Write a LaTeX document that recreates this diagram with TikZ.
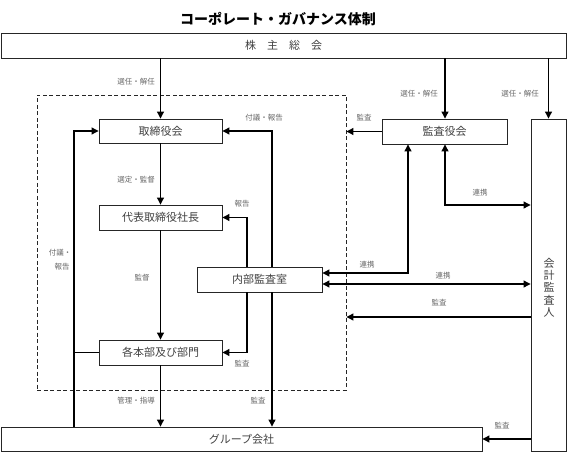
\documentclass[tikz,border=0pt]{standalone}
\usepackage{fontspec}
\newfontfamily\jp{Noto Sans CJK JP}
\usetikzlibrary{arrows.meta,calc}
\definecolor{lbl}{HTML}{666666}
\definecolor{txt}{HTML}{404040}
\tikzset{
  box/.style={draw=black!85, line width=0.9pt, inner sep=0pt, font=\jp\fontsize{11}{13}\selectfont, text=txt},
  dbox/.style={draw=black!85, line width=0.9pt, dash pattern=on 4pt off 2.5pt, inner sep=0pt},
  lab/.style={font=\jp\fontsize{7.5}{9}\selectfont, text=lbl, inner sep=0pt},
  arr/.style={line width=1.1pt, -{Triangle[length=7pt,width=7pt]}},
  arrb/.style={line width=1.1pt, {Triangle[length=7pt,width=7pt]}-{Triangle[length=7pt,width=7pt]}},
  ln/.style={line width=1.1pt}
}
\begin{document}
\begin{tikzpicture}[x=1pt,y=-1pt]
\useasboundingbox (0,0) rectangle (568,452);
% title
\node[font=\jp\bfseries\fontsize{14}{16}\selectfont, inner sep=0pt] (title) at (278,19) {コーポレート・ガバナンス体制};
% boxes
\node[box, minimum width=565pt, minimum height=25pt] (sh) at (283.5,45.5) {株　主　総　会};
\node[dbox, minimum width=309pt, minimum height=295pt] (db) at (191.5,242.5) {};
\node[box, minimum width=123pt, minimum height=24pt] (tb) at (160.5,131) {取締役会};
\node[box, minimum width=123pt, minimum height=25pt] (ceo) at (160.5,217.5) {代表取締役社長};
\node[box, minimum width=125pt, minimum height=25pt] (ia) at (259.5,279.5) {内部監査室};
\node[box, minimum width=123pt, minimum height=25pt] (dept) at (160.5,352.5) {各本部及び部門};
\node[box, minimum width=481pt, minimum height=24pt] (grp) at (241.5,439) {グループ会社};
\node[box, minimum width=125pt, minimum height=25pt] (kan) at (444.5,131.5) {監査役会};
\node[box, minimum width=35pt, minimum height=332pt, align=center, font=\jp\fontsize{11}{12.3}\selectfont] (acc) at (548.5,285) {};
\node[font=\jp\fontsize{11}{12.3}\selectfont, text=txt, align=center, inner sep=0pt] (acct) at (549,287.5) {会\\計\\監\\査\\人};
% helper coordinates
\coordinate (xl) at (74,0);
\coordinate (xa) at (272,0);
\coordinate (xb) at (247,0);
\coordinate (xc) at (408,0);
\coordinate (xd) at (445,0);
\coordinate (y1) at (0,273);
\coordinate (y2) at (0,205);
\coordinate (y3) at (0,284);
\coordinate (y4) at (0,317);
% connectors from shareholders
\draw[arr] (tb.north |- sh.south) -- (tb.north);
\draw[arr] (xd |- sh.south) -- (xd |- kan.north);
\draw[arr] (acc.north |- sh.south) -- (acc.north);
% main chain
\draw[arr] (tb.south) -- (ceo.north);
\draw[arr] (ceo.south) -- (dept.north);
\draw[arr] (dept.south) -- (dept.south |- grp.north);
% left loop
\draw[arr] (xl |- grp.north) |- (tb.west);
\draw[ln] (dept.west) -- (dept.west -| xl);
% internal audit
\draw[arr] (xa |- ia.north) |- (tb.east);
\draw[arr] (xa |- ia.south) -- (xa |- grp.north);
\draw[arr] (xb |- ia.north) |- (ceo.east);
\draw[arr] (xb |- ia.south) |- (dept.east);
% audit board
\draw[arr] (kan.west) -- (kan.west -| db.east);
\draw[arrb] (xc |- kan.south) |- (y1 -| ia.east);
\draw[arrb] (xd |- kan.south) |- (y2 -| acc.west);
\draw[arrb] (y3 -| ia.east) -- (y3 -| acc.west);
\draw[arr] (y4 -| acc.west) -- (y4 -| db.east);
\draw[arr] (acc.west |- grp.east) -- (grp.east);
% labels
\node[lab] (l1) at (136,82) {選任・解任};
\node[lab] (l2) at (419,94) {選任・解任};
\node[lab] (l3) at (520,94) {選任・解任};
\node[lab] (l4) at (264,118) {付議・報告};
\node[lab] (l5) at (364,118) {監査};
\node[lab] (l6) at (136,180) {選定・監督};
\node[lab] (l7) at (242,204) {報告};
\node[lab] (l8) at (480,193) {連携};
\node[lab] (l9) at (60,253) {付議・};
\node[lab] (l10) at (62,267) {報告};
\node[lab] (l11) at (367,265) {連携};
\node[lab] (l12) at (443,276) {連携};
\node[lab] (l13) at (142,278) {監督};
\node[lab] (l14) at (439,303) {監査};
\node[lab] (l15) at (242,364) {監査};
\node[lab] (l16) at (136,401) {管理・指導};
\node[lab] (l17) at (258,401) {監査};
\node[lab] (l18) at (502,426) {監査};
\end{tikzpicture}
\end{document}
